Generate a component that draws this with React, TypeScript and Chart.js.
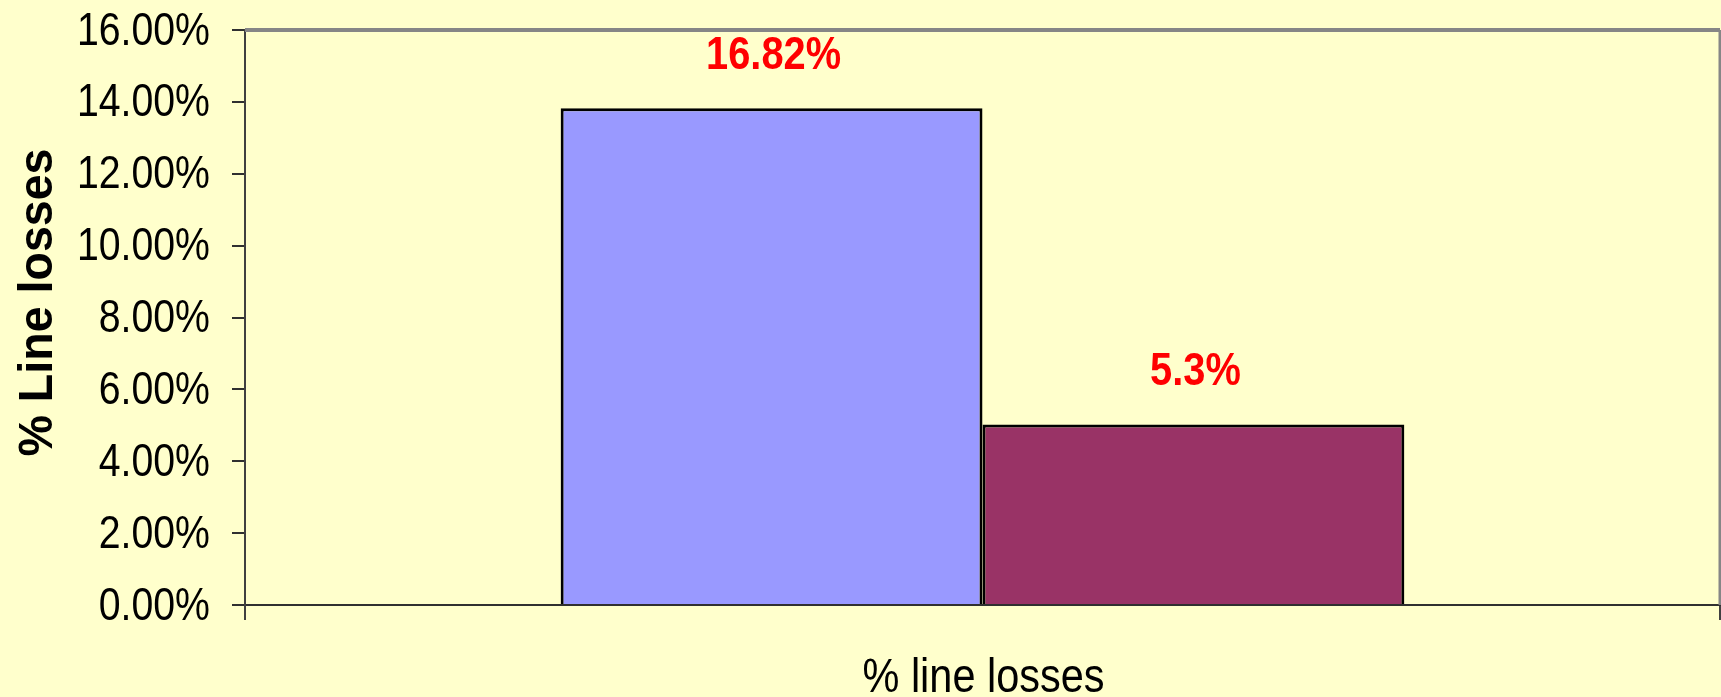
import React, { useEffect, useRef } from "react";
import { Chart, registerables } from "chart.js";

Chart.register(...registerables);

const categories: string[] = ["% line losses"];
const seriesNames: string[] = ["Before", "After"];
const seriesValues: number[] = [0.1382, 0.0502];
const valueLabels: string[] = ["16.82%", "5.3%"];
const seriesColors: string[] = ["#9999FF", "#993366"];
const yTicks = { min: 0, max: 0.16, step: 0.02 };
const yTitle = "% Line losses";

const BG = "#FFFFCC";
const FAMILY = "'Liberation Sans', Arial, sans-serif";

function drawText(ctx: any, text: string, x: number, y: number, font: string, color: string, align: string, sx: number) {
  ctx.save();
  ctx.font = font;
  ctx.fillStyle = color;
  ctx.textBaseline = "alphabetic";
  ctx.textAlign = align;
  ctx.translate(x, y);
  ctx.scale(sx, 1);
  ctx.fillText(text, 0, 0);
  ctx.restore();
}

const bgPlugin = {
  id: "bgFill",
  beforeDraw(chart: any) {
    const ctx = chart.ctx;
    ctx.save();
    ctx.fillStyle = BG;
    ctx.fillRect(0, 0, chart.width, chart.height);
    ctx.restore();
  },
};

const textPlugin = {
  id: "texts",
  afterDraw(chart: any) {
    const { ctx, chartArea } = chart;
    ctx.save();
    ctx.strokeStyle = "#868686";
    ctx.lineWidth = 4;
    ctx.beginPath();
    ctx.moveTo(chartArea.left, chartArea.top);
    ctx.lineTo(chartArea.right, chartArea.top);
    ctx.stroke();
    ctx.lineWidth = 3;
    ctx.beginPath();
    ctx.moveTo(chartArea.right, chartArea.top);
    ctx.lineTo(chartArea.right, chartArea.bottom);
    ctx.stroke();
    ctx.restore();

    const ys = chart.scales.y;
    ys.ticks.forEach((t: any) => {
      const py = ys.getPixelForValue(t.value);
      const label = (Number(t.value) * 100).toFixed(2) + "%";
      drawText(ctx, label, 210, py + 14.5, `47px ${FAMILY}`, "#000", "right", 0.835);
    });

    const xs = chart.scales.x;
    categories.forEach((c, i) => {
      const px = xs.getPixelForValue(i);
      drawText(ctx, c, px + 1, chartArea.bottom + 87, `48px ${FAMILY}`, "#000", "center", 0.864);
    });

    ctx.save();
    ctx.translate(52, 302.5);
    ctx.rotate(-Math.PI / 2);
    drawText(ctx, yTitle, 0, 0, `bold 48px ${FAMILY}`, "#000", "center", 0.97);
    ctx.restore();
  },
};

const labelPlugin = {
  id: "valueLabels",
  afterDatasetsDraw(chart: any) {
    const ctx = chart.ctx;
    chart.data.datasets.forEach((ds: any, i: number) => {
      const meta = chart.getDatasetMeta(i);
      const el = meta.data[0];
      if (!el) return;
      drawText(ctx, valueLabels[i], el.x + 2, el.y - 39.5, `bold 46px ${FAMILY}`, "#FF0000", "center", 0.865);
    });
  },
};

export default function App() {
  const ref = useRef<HTMLCanvasElement | null>(null);
  useEffect(() => {
    document.body.style.margin = "0";
    const canvas = ref.current;
    if (!canvas) return;
    const chart = new Chart(canvas, {
      type: "bar",
      data: {
        labels: categories,
        datasets: seriesValues.map((v, i) => ({
          label: seriesNames[i],
          data: [v],
          backgroundColor: seriesColors[i],
          borderColor: "#000000",
          borderWidth: 3,
          barPercentage: 1,
          categoryPercentage: 0.572,
        })),
      },
      options: {
        responsive: false,
        animation: false,
        devicePixelRatio: 1,
        layout: { padding: { top: 30, right: 1, left: 0, bottom: 0 } },
        plugins: {
          legend: { display: false },
          tooltip: { enabled: false },
          title: { display: false },
        },
        scales: {
          x: {
            type: "category",
            grid: {
              offset: true,
              drawOnChartArea: false,
              drawTicks: true,
              tickLength: 15,
              color: "#404040",
              lineWidth: 2,
            },
            border: { display: true, color: "#303030", width: 2 },
            ticks: { display: false },
            afterFit(axis: any) {
              axis.height = 92;
            },
          },
          y: {
            min: yTicks.min,
            max: yTicks.max,
            grid: {
              drawOnChartArea: false,
              drawTicks: true,
              tickLength: 13,
              color: "#303030",
              lineWidth: 2,
            },
            border: { display: true, color: "#404040", width: 2 },
            ticks: { display: false, stepSize: yTicks.step },
            afterFit(axis: any) {
              axis.width = 245;
            },
          },
        },
      },
      plugins: [bgPlugin, labelPlugin, textPlugin],
    });
    return () => chart.destroy();
  }, []);
  return (
    <div style={{ width: 1721, height: 697, background: BG }}>
      <canvas ref={ref} width={1721} height={697} style={{ display: "block" }} />
    </div>
  );
}
